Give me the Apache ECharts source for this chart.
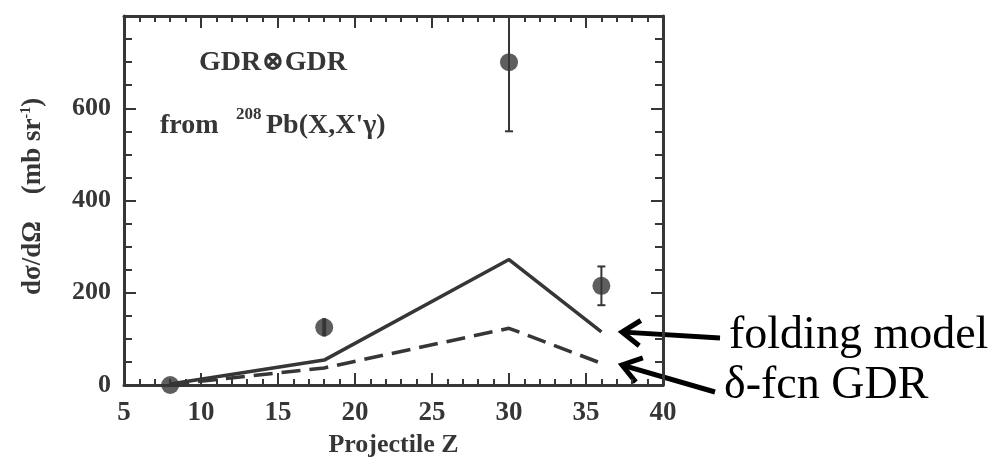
<!DOCTYPE html>
<html>
<head>
<meta charset="utf-8">
<title>GDR⊗GDR cross section vs projectile Z</title>
<script src="https://cdn.jsdelivr.net/npm/echarts@6/dist/echarts.min.js"></script>
<style>
  html, body { margin: 0; padding: 0; background: #ffffff; }
  #chart { width: 1004px; height: 466px; }
</style>
</head>
<body>
<div id="chart"></div>
<script>
// Projectile charge Z of each measurement / calculation
const projectileZ = [8, 18, 30, 36];
// Measured double-GDR cross sections (mb/sr) and their uncertainties
const measured = [0, 125, 700, 215];
const measuredErr = [0, 20, 150, 42];
// Folding-model calculation (solid) and delta-function GDR calculation (dashed)
const foldingModel = [2, 54, 272, 115];
const deltaFcnGdr = [1, 37, 123, 47];

// Axis ranges and labelled tick step
const xRange = [5, 40];
const xStep = 5;
const yRange = [0, 800];
const yStep = 200;

const ink = '#363636';
const serif = '"Liberation Serif", "DejaVu Serif", serif';

const pointRows = projectileZ.map((z, i) => [z, measured[i]]);
const errRows = projectileZ.map((z, i) => [z, measured[i] - measuredErr[i], measured[i] + measuredErr[i]]);
const foldRows = projectileZ.map((z, i) => [z, foldingModel[i]]);
const deltaRows = projectileZ.map((z, i) => [z, deltaFcnGdr[i]]);

function frameX(position, labels) {
  return {
    type: 'value', position: position, min: xRange[0], max: xRange[1], interval: xStep,
    axisLine: { show: true, onZero: false, lineStyle: { color: ink, width: 3 } },
    axisTick: { show: true, inside: true, length: 12, lineStyle: { color: ink, width: 2 } },
    minorTick: { show: true, splitNumber: 5, length: 6, lineStyle: { color: ink, width: 2 } },
    splitLine: { show: false },
    axisLabel: labels ? {
      show: true, margin: 15, color: ink, fontFamily: serif, fontWeight: 'bold', fontSize: 27
    } : { show: false },
    name: labels ? 'Projectile Z' : '',
    nameLocation: 'middle', nameGap: 37,
    nameTextStyle: { color: ink, fontFamily: serif, fontWeight: 'bold', fontSize: 26 }
  };
}

function frameY(position, labels) {
  return {
    type: 'value', position: position, min: yRange[0], max: yRange[1], interval: yStep,
    axisLine: { show: true, onZero: false, lineStyle: { color: ink, width: 3 } },
    axisTick: { show: true, inside: true, length: 12, lineStyle: { color: ink, width: 2 } },
    minorTick: { show: true, splitNumber: 4, length: 8, lineStyle: { color: ink, width: 2 } },
    splitLine: { show: false },
    axisLabel: labels ? {
      show: true, margin: 13, showMaxLabel: false, color: ink,
      fontFamily: serif, fontWeight: 'bold', fontSize: 26
    } : { show: false }
  };
}

// Open chevron arrow from a text label to a curve end
function arrow(tail, tip) {
  const dx = tail[0] - tip[0], dy = tail[1] - tip[1];
  const len = Math.hypot(dx, dy);
  const ux = dx / len, uy = dy / len;
  const a = 35 * Math.PI / 180, arm = 22;
  const rot = (s) => [ux * Math.cos(a) - s * uy * Math.sin(a), s * ux * Math.sin(a) + uy * Math.cos(a)];
  const r1 = rot(1), r2 = rot(-1);
  const style = { stroke: '#000', lineWidth: 5, fill: null, lineJoin: 'miter' };
  return [
    { type: 'line', shape: { x1: tail[0], y1: tail[1], x2: tip[0] + ux * 2, y2: tip[1] + uy * 2 }, style: style },
    { type: 'polyline', shape: { points: [
      [tip[0] + r1[0] * arm, tip[1] + r1[1] * arm], tip, [tip[0] + r2[0] * arm, tip[1] + r2[1] * arm]
    ] }, style: style }
  ];
}

const chart = echarts.init(document.getElementById('chart'), null, { renderer: 'canvas' });

chart.setOption({
  animation: false,
  backgroundColor: '#ffffff',
  grid: { left: 124, right: 341, top: 16, bottom: 81, containLabel: false },
  xAxis: [frameX('bottom', true), frameX('top', false)],
  yAxis: [frameY('left', true), frameY('right', false)],
  series: [
    {
      name: 'folding model', type: 'line', data: foldRows, showSymbol: false,
      xAxisIndex: 0, yAxisIndex: 0,
      lineStyle: { color: ink, width: 3.5 }, z: 2
    },
    {
      name: 'δ-fcn GDR', type: 'line', data: deltaRows, showSymbol: false,
      xAxisIndex: 0, yAxisIndex: 0,
      lineStyle: { color: ink, width: 3.5, type: [19, 9] }, z: 2
    },
    {
      name: 'error', type: 'custom', data: errRows, xAxisIndex: 0, yAxisIndex: 0, z: 3,
      renderItem: function (params, api) {
        const x = api.value(0), lo = api.value(1), hi = api.value(2);
        if (hi <= lo) return null;
        const top = Math.min(hi, yRange[1]);
        const pLo = api.coord([x, lo]);
        const pHi = api.coord([x, top]);
        const pMid = api.coord([x, (lo + hi) / 2]);
        // short bars hidden behind the marker get no caps
        const withCaps = (pLo[1] - pMid[1]) > 12;
        const cap = 4;
        const st = { stroke: ink, lineWidth: withCaps ? 2 : 4 };
        const children = [
          { type: 'line', shape: { x1: pLo[0], y1: pLo[1], x2: pHi[0], y2: pHi[1] }, style: st }
        ];
        if (withCaps) {
          children.push({ type: 'line', shape: { x1: pLo[0] - cap, y1: pLo[1], x2: pLo[0] + cap, y2: pLo[1] }, style: st });
          if (hi <= yRange[1]) {
            children.push({ type: 'line', shape: { x1: pHi[0] - cap, y1: pHi[1], x2: pHi[0] + cap, y2: pHi[1] }, style: st });
          }
        }
        return { type: 'group', children: children };
      }
    },
    {
      name: 'measured', type: 'scatter', data: pointRows, xAxisIndex: 0, yAxisIndex: 0,
      symbol: 'circle', symbolSize: 18, clip: false, z: 4,
      itemStyle: { color: ink }
    }
  ],
  graphic: [
    {
      type: 'text', left: 199, top: 49,
      style: { text: 'GDR⊗GDR', font: 'bold 28px ' + serif, fill: ink }
    },
    {
      type: 'text', left: 160, top: 112,
      style: { text: 'from', font: 'bold 28px ' + serif, fill: ink }
    },
    {
      type: 'text', left: 236, top: 106,
      style: { text: '208', font: 'bold 17px ' + serif, fill: ink }
    },
    {
      type: 'text', left: 266, top: 112,
      style: { text: "Pb(X,X'γ)", font: 'bold 28px ' + serif, fill: ink }
    },
    {
      type: 'text', x: 19, y: 295, rotation: Math.PI / 2,
      style: {
        text: '{a|dσ/dΩ    (mb sr}{s|-1}{a|)}',
        fill: ink,
        rich: {
          a: { fontFamily: serif, fontWeight: 'bold', fontSize: 27, fill: ink, lineHeight: 28 },
          s: { fontFamily: serif, fontWeight: 'bold', fontSize: 14, fill: ink, verticalAlign: 'top', lineHeight: 28, padding: [0, 0, 12, 0] }
        }
      }
    },
    {
      type: 'text', left: 729, top: 313,
      style: { text: 'folding model', font: '46px ' + serif, fill: '#000' }
    },
    {
      type: 'text', left: 724, top: 363,
      style: { text: 'δ-fcn GDR', font: '46px ' + serif, fill: '#000' }
    }
  ].concat(arrow([720, 338], [622, 332]), arrow([715, 392], [622, 365]))
});
</script>
</body>
</html>
